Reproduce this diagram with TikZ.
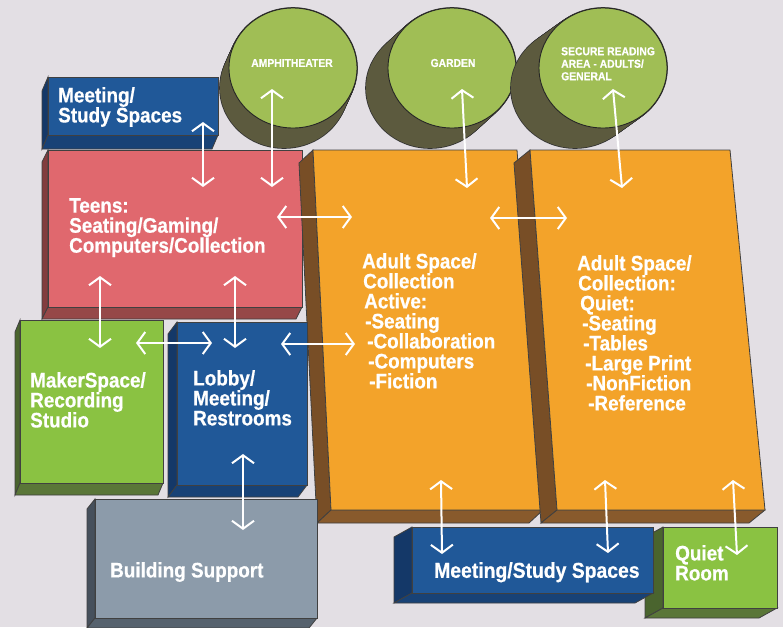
\documentclass[tikz,border=0pt]{standalone}
\usepackage{fontspec}
\setmainfont{Liberation Sans}[FakeStretch=0.9, BoldFeatures={FakeBold=0.6}]
\usetikzlibrary{arrows.meta,calc}
\definecolor{bg}{RGB}{227,223,228}
\definecolor{cylface}{RGB}{160,190,85}
\definecolor{cyldark}{RGB}{92,90,62}
\definecolor{cBlue}{RGB}{32,88,152}
\definecolor{cBlueside}{RGB}{20,56,104}
\definecolor{cBluebot}{RGB}{24,66,118}
\definecolor{cPink}{RGB}{224,104,110}
\definecolor{cPinkside}{RGB}{130,60,62}
\definecolor{cPinkbot}{RGB}{150,72,72}
\definecolor{cOrange}{RGB}{243,163,42}
\definecolor{cOrangeside}{RGB}{120,78,38}
\definecolor{cOrangebot}{RGB}{136,90,44}
\definecolor{cGreen}{RGB}{138,194,66}
\definecolor{cGreenside}{RGB}{74,100,46}
\definecolor{cGreenbot}{RGB}{90,118,56}
\definecolor{cGray}{RGB}{140,155,170}
\definecolor{cGrayside}{RGB}{70,80,92}
\definecolor{cGraybot}{RGB}{86,98,110}
% block: TL, TR, BR, BL, depth vector, colour prefix
\newcommand{\blk}[6]{%
  \filldraw[fill=#6side, draw=black!75, line width=0.8pt] #1 -- #4 -- ($#4+#5$) -- ($#1+#5$) -- cycle;
  \filldraw[fill=#6bot, draw=black!75, line width=0.8pt] #4 -- #3 -- ($#3+#5$) -- ($#4+#5$) -- cycle;
  \filldraw[fill=#6, draw=black!75, line width=0.8pt] #1 -- #2 -- #3 -- #4 -- cycle;
}
% cylinder: cx, cy, dx, dy
\newcommand{\cyl}[4]{%
  \foreach \t in {0,0.05,...,1.01}
    \draw[cyldark, line width=1.6pt, draw=black!80] ({#1+\t*(#3)},{#2+\t*(#4)}) ellipse [x radius=64pt, y radius=60pt];
  \foreach \t in {0,0.05,...,1.01}
    \fill[cyldark] ({#1+\t*(#3)},{#2+\t*(#4)}) ellipse [x radius=64pt, y radius=60pt];
  \filldraw[fill=cylface, draw=black!85, line width=0.9pt] (#1,#2) ellipse [x radius=64pt, y radius=60pt];
}
\begin{document}
\begin{tikzpicture}[x=1pt,y=-1pt,
  lbl/.style={text=white, font=\fontsize{21}{20}\selectfont\bfseries, align=left, anchor=north west, inner sep=0pt},
  clbl/.style={text=white, font=\fontsize{11.5}{12.5}\selectfont\bfseries, align=center, inner sep=0pt},
  arr/.style={draw=white, line width=2pt, arrows={Straight Barb[length=8pt,width=22pt]-Straight Barb[length=8pt,width=22pt]}}]
\useasboundingbox (0,0) rectangle (783,627);
\fill[bg] (0,0) rectangle (783,627);

% cylinders
\cyl{293}{68}{-9}{20}
\cyl{452}{68}{-22}{20}
\cyl{603}{68}{-28}{20}
\node[clbl] (tAmph) at (292,63) {AMPHITHEATER};
\node[clbl] (tGarden) at (453,63) {GARDEN};
\node[clbl, align=left, anchor=north west] (tSecure) at (561,47) {SECURE READING\\AREA - ADULTS/\\GENERAL};

% blocks
\blk{(48,77)}{(218,77)}{(218,135)}{(48,135)}{(-6,14)}{cBlue}
\blk{(48,150)}{(302,150)}{(302,307)}{(48,307)}{(-6,12)}{cPink}
\blk{(313,150)}{(517,150)}{(543,510)}{(331,510)}{(-14,13)}{cOrange}
\blk{(530,150)}{(730,150)}{(765,510)}{(557,510)}{(-16,13)}{cOrange}
\blk{(20,320)}{(163,320)}{(163,483)}{(20,483)}{(-5,12)}{cGreen}
\blk{(177,322)}{(307,322)}{(307,485)}{(177,485)}{(-9,12)}{cBlue}
\blk{(95,499)}{(317,499)}{(317,618)}{(95,618)}{(-8,10)}{cGray}
\blk{(663,527)}{(777,527)}{(777,608)}{(663,608)}{(-18,10)}{cGreen}
\blk{(412,527)}{(653,527)}{(653,593)}{(412,593)}{(-18,10)}{cBlue}

% labels
\node[lbl] (tMeetTop) at (58,87) {Meeting/\\Study Spaces};
\node[lbl] (tTeens) at (69,198) {Teens:\\Seating/Gaming/\\Computers/Collection};
\node[lbl] (tMaker) at (30,372) {MakerSpace/\\Recording\\Studio};
\node[lbl] (tLobby) at (193,370) {Lobby/\\Meeting/\\Restrooms};
\node[lbl] (tBS) at (110,562) {Building Support};
\node[lbl] (tActive) at (362,253) {Adult Space/\\\hspace*{1pt}Collection\\\hspace*{2pt}Active:\\\hspace*{3pt}-Seating\\\hspace*{5pt}-Collaboration\\\hspace*{6pt}-Computers\\\hspace*{7pt}-Fiction};
\node[lbl] (tQuietA) at (577,255) {Adult Space/\\\hspace*{1pt}Collection:\\\hspace*{3pt}Quiet:\\\hspace*{5pt}-Seating\\\hspace*{6pt}-Tables\\\hspace*{8pt}-Large Print\\\hspace*{9pt}-NonFiction\\\hspace*{11pt}-Reference};
\node[lbl, font=\fontsize{21.5}{20}\selectfont\bfseries] (tMeetBot) at (434,562) {Meeting/Study Spaces};
\node[lbl] (tQR) at (675,545) {Quiet\\Room};

% arrow end points
\coordinate (a1s) at (203,122); \coordinate (a1e) at (203,187);
\coordinate (a2s) at (272,89);  \coordinate (a2e) at (272,187);
\coordinate (a3s) at (277,217); \coordinate (a3e) at (352,217);
\coordinate (a4s) at (100,276); \coordinate (a4e) at (100,348);
\coordinate (a5s) at (235,276); \coordinate (a5e) at (235,348);
\coordinate (a6s) at (136,343); \coordinate (a6e) at (212,343);
\coordinate (a7s) at (281,344); \coordinate (a7e) at (355,344);
\coordinate (a8s) at (243,454); \coordinate (a8e) at (243,530);
\coordinate (a9s) at (462,89);  \coordinate (a9e) at (467,188);
\coordinate (a10s) at (490,218); \coordinate (a10e) at (567,218);
\coordinate (a11s) at (613,89); \coordinate (a11e) at (622,188);
\coordinate (a12s) at (441,480); \coordinate (a12e) at (442,554);
\coordinate (a13s) at (605,480); \coordinate (a13e) at (608,553);
\coordinate (a14s) at (733,480); \coordinate (a14e) at (737,555);
\foreach \i in {1,...,14} \draw[arr] (a\i s) -- (a\i e);
\end{tikzpicture}
\end{document}
